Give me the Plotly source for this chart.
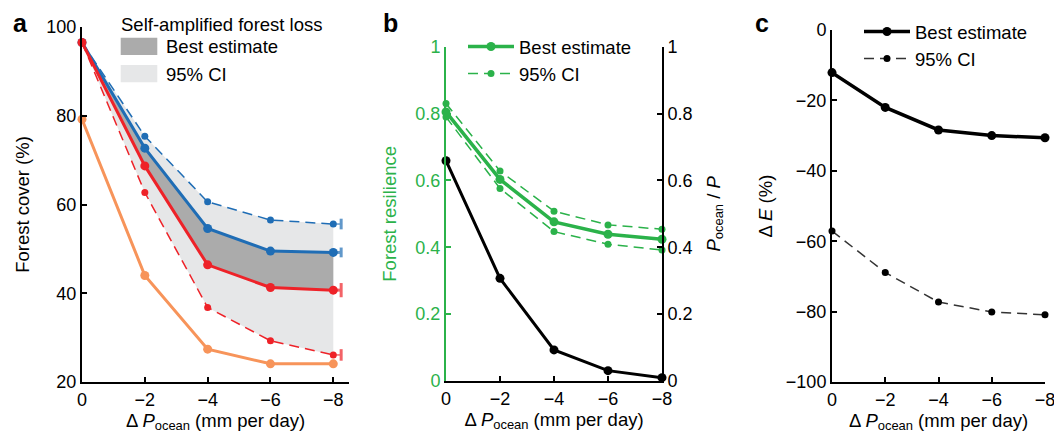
import plotly.graph_objects as go

W, H = 1054, 437
FONT = "Liberation Sans, Arial, Helvetica, sans-serif"

# ---------------- data ----------------
dP = [0, -2, -4, -6, -8]
dP_ticks = [0, -2, -4, -6, -8]

# panel a: forest cover (%)
cover_blue_best = [96.5, 72.7, 54.6, 49.5, 49.2]
cover_blue_ci = [96.5, 75.4, 60.6, 56.5, 55.6]
cover_red_best = [96.5, 68.7, 46.4, 41.3, 40.7]
cover_red_ci = [96.5, 62.7, 36.8, 29.3, 26.1]
cover_orange = [79.2, 44.0, 27.4, 24.1, 24.1]
# spread shown at the last step (end bars)
end_err_blue_best = 1.1
end_err_blue_ci = 1.2
end_err_red_best = 1.6
end_err_red_ci = 1.3
end_x = -8.25

# panel b
resilience_best = [0.805, 0.603, 0.476, 0.439, 0.424]
resilience_ci_upper = [0.830, 0.628, 0.508, 0.467, 0.454]
resilience_ci_lower = [0.790, 0.576, 0.447, 0.409, 0.392]
pocean_ratio = [0.659, 0.307, 0.093, 0.031, 0.010]

# panel c
dE_best = [-12.1, -22.0, -28.4, -30.0, -30.6]
dE_ci = [-57.1, -68.9, -77.3, -80.1, -80.9]

# ---------------- styles ----------------
BLUE = "#1f6db5"
RED = "#ee2228"
ORANGE = "#f7945a"
GREEN = "#2bb24a"
DARKFILL = "#ababab"
LIGHTFILL = "#e6e7e8"
BLACK = "#000000"
DASH = "10px,6px"
TS = 18      # tick font size
LS = 18.5    # label / legend font size


def px_x(p):
    return p / W


def px_y(p):
    return 1 - p / H


fig = go.Figure()

# ---- panel a fills ----
fig.add_trace(go.Scatter(x=dP, y=cover_blue_ci, mode="lines", line=dict(width=0),
                         showlegend=False, hoverinfo="skip", xaxis="x", yaxis="y"))
fig.add_trace(go.Scatter(x=dP, y=cover_red_ci, mode="lines", line=dict(width=0),
                         fill="tonexty", fillcolor=LIGHTFILL,
                         showlegend=False, hoverinfo="skip", xaxis="x", yaxis="y"))
fig.add_trace(go.Scatter(x=dP, y=cover_blue_best, mode="lines", line=dict(width=0),
                         showlegend=False, hoverinfo="skip", xaxis="x", yaxis="y"))
fig.add_trace(go.Scatter(x=dP, y=cover_red_best, mode="lines", line=dict(width=0),
                         fill="tonexty", fillcolor=DARKFILL,
                         showlegend=False, hoverinfo="skip", xaxis="x", yaxis="y"))


def end_bar(vals, err, color, width):
    fig.add_trace(go.Scatter(
        x=[dP[-1], end_x], y=[vals[-1], vals[-1]], mode="lines",
        line=dict(color=color, width=width),
        error_y=dict(type="data", array=[0, err], color=color, thickness=3, width=0),
        opacity=0.7, showlegend=False, hoverinfo="skip", cliponaxis=False,
        xaxis="x", yaxis="y"))


end_bar(cover_blue_ci, end_err_blue_ci, BLUE, 1.5)
end_bar(cover_red_ci, end_err_red_ci, RED, 1.5)
end_bar(cover_blue_best, end_err_blue_best, BLUE, 3)
end_bar(cover_red_best, end_err_red_best, RED, 3)

# ---- panel a lines ----
fig.add_trace(go.Scatter(x=dP, y=cover_blue_ci, mode="lines+markers",
                         line=dict(color=BLUE, width=1.5, dash=DASH),
                         marker=dict(color=BLUE, size=7), cliponaxis=False,
                         showlegend=False, xaxis="x", yaxis="y"))
fig.add_trace(go.Scatter(x=dP, y=cover_red_ci, mode="lines+markers",
                         line=dict(color=RED, width=1.5, dash=DASH),
                         marker=dict(color=RED, size=7), cliponaxis=False,
                         showlegend=False, xaxis="x", yaxis="y"))
fig.add_trace(go.Scatter(x=dP, y=cover_orange, mode="lines+markers",
                         line=dict(color=ORANGE, width=3),
                         marker=dict(color=ORANGE, size=9), cliponaxis=False,
                         showlegend=False, xaxis="x", yaxis="y"))
fig.add_trace(go.Scatter(x=dP, y=cover_blue_best, mode="lines+markers",
                         line=dict(color=BLUE, width=3),
                         marker=dict(color=BLUE, size=9), cliponaxis=False,
                         showlegend=False, xaxis="x", yaxis="y"))
fig.add_trace(go.Scatter(x=dP, y=cover_red_best, mode="lines+markers",
                         line=dict(color=RED, width=3),
                         marker=dict(color=RED, size=9), cliponaxis=False,
                         showlegend=False, xaxis="x", yaxis="y"))

# ---- panel b ----
fig.add_trace(go.Scatter(x=dP, y=pocean_ratio, mode="lines+markers",
                         line=dict(color=BLACK, width=3),
                         marker=dict(color=BLACK, size=9), cliponaxis=False,
                         showlegend=False, xaxis="x2", yaxis="y3"))
fig.add_trace(go.Scatter(x=dP, y=resilience_ci_upper, mode="lines+markers",
                         name="95% CI", legend="legend2",
                         line=dict(color=GREEN, width=1.5, dash=DASH),
                         marker=dict(color=GREEN, size=7), cliponaxis=False,
                         showlegend=False, xaxis="x2", yaxis="y2"))
fig.add_trace(go.Scatter(x=dP, y=resilience_ci_lower, mode="lines+markers",
                         name="95% CI", legend="legend2",
                         line=dict(color=GREEN, width=1.5, dash=DASH),
                         marker=dict(color=GREEN, size=7), cliponaxis=False,
                         showlegend=False, xaxis="x2", yaxis="y2"))
fig.add_trace(go.Scatter(x=dP, y=resilience_best, mode="lines+markers",
                         name="Best estimate", legend="legend2",
                         line=dict(color=GREEN, width=3.5),
                         marker=dict(color=GREEN, size=9), cliponaxis=False,
                         showlegend=True, xaxis="x2", yaxis="y2"))
# legend-only CI entry (keeps the legend order)
fig.add_trace(go.Scatter(x=[None], y=[None], mode="lines+markers",
                         name="95% CI", legend="legend2",
                         line=dict(color=GREEN, width=1.5, dash=DASH),
                         marker=dict(color=GREEN, size=7),
                         showlegend=True, xaxis="x2", yaxis="y2"))

# ---- panel c ----
fig.add_trace(go.Scatter(x=dP, y=dE_best, mode="lines+markers",
                         name="Best estimate", legend="legend3",
                         line=dict(color=BLACK, width=3.5),
                         marker=dict(color=BLACK, size=9), cliponaxis=False,
                         xaxis="x3", yaxis="y4"))
fig.add_trace(go.Scatter(x=dP, y=dE_ci, mode="lines+markers",
                         name="95% CI", legend="legend3",
                         line=dict(color="#333333", width=1.5, dash=DASH),
                         marker=dict(color=BLACK, size=7), cliponaxis=False,
                         xaxis="x3", yaxis="y4"))

# ---------------- axes ----------------
tickfont = dict(family=FONT, size=TS, color=BLACK)
titlefont = dict(family=FONT, size=LS, color=BLACK)
xtitle = "Δ <i>P</i><sub>ocean</sub> (mm per day)"


def xaxis(dom, rng, anchor):
    return dict(domain=dom, range=rng, anchor=anchor, tickvals=dP_ticks,
                showline=True, linecolor=BLACK, linewidth=2, ticks="inside",
                ticklen=5, tickwidth=1.5, tickcolor=BLACK, showgrid=False,
                zeroline=False, tickfont=tickfont, automargin=False,
                ticklabeloverflow="allow",
                title=dict(text=xtitle, font=titlefont, standoff=4))


def yaxis(dom, rng, anchor, dtick, title, color=BLACK, side="left", standoff=10, **kw):
    d = dict(domain=dom, range=rng, anchor=anchor, dtick=dtick, side=side,
             showline=True, linecolor=color, linewidth=2, ticks="inside",
             ticklen=5, tickwidth=1.5, tickcolor=color, showgrid=False,
             zeroline=False, tickfont=dict(family=FONT, size=TS, color=color),
             automargin=False, ticklabeloverflow="allow",
             title=dict(text=title, font=dict(family=FONT, size=LS, color=color),
                        standoff=standoff))
    d.update(kw)
    return d


fig.update_layout(
    width=W, height=H,
    margin=dict(l=0, r=0, t=0, b=0),
    paper_bgcolor="white", plot_bgcolor="rgba(0,0,0,0)",
    font=dict(family=FONT, size=LS, color=BLACK),
    xaxis=xaxis([px_x(82), px_x(349)], [0, -8.5], "y"),
    yaxis=yaxis([px_y(382), px_y(27)], [20, 100], "x", 20, "Forest cover (%)", standoff=12),
    xaxis2=xaxis([px_x(446), px_x(662)], [0, -8], "y2"),
    yaxis2=yaxis([px_y(381), px_y(46.7)], [0, 1], "x2", 0.2, "Forest resilience",
                 color=GREEN, standoff=14),
    yaxis3=yaxis([px_y(381), px_y(46.7)], [0, 1], "x2", 0.2,
                 "<i>P</i><sub>ocean</sub> / <i>P</i>", side="right",
                 overlaying="y2", standoff=15),
    xaxis3=xaxis([px_x(832), px_x(1045)], [0, -8], "y4"),
    yaxis4=yaxis([px_y(382), px_y(30)], [-100, 0], "x3", 20, "Δ <i>E</i> (%)", standoff=8),
    legend2=dict(x=px_x(463), y=px_y(28), xanchor="left", yanchor="top",
                 bgcolor="rgba(0,0,0,0)", itemwidth=46,
                 font=dict(family=FONT, size=LS, color=BLACK), tracegroupgap=0),
    legend3=dict(x=px_x(859), y=px_y(13), xanchor="left", yanchor="top",
                 bgcolor="rgba(0,0,0,0)", itemwidth=46,
                 font=dict(family=FONT, size=LS, color=BLACK), tracegroupgap=0),
    showlegend=True,
)

# ---------------- panel a legend (area swatches) ----------------
fig.add_shape(type="rect", xref="paper", yref="paper",
              x0=px_x(120.7), x1=px_x(157.3), y0=px_y(55), y1=px_y(37.7),
              fillcolor=DARKFILL, line=dict(width=0))
fig.add_shape(type="rect", xref="paper", yref="paper",
              x0=px_x(120.7), x1=px_x(157.3), y0=px_y(82.3), y1=px_y(65),
              fillcolor=LIGHTFILL, line=dict(width=0))
fig.add_annotation(text="Self-amplified forest loss", xref="paper", yref="paper",
                   x=px_x(119), y=px_y(24), xanchor="left", yanchor="middle",
                   showarrow=False, font=dict(family=FONT, size=LS, color=BLACK))
fig.add_annotation(text="Best estimate", xref="paper", yref="paper",
                   x=px_x(164), y=px_y(47), xanchor="left", yanchor="middle",
                   showarrow=False, font=dict(family=FONT, size=LS, color=BLACK))
fig.add_annotation(text="95% CI", xref="paper", yref="paper",
                   x=px_x(164), y=px_y(74), xanchor="left", yanchor="middle",
                   showarrow=False, font=dict(family=FONT, size=LS, color=BLACK))

# ---------------- panel letters ----------------
for letter, xp in [("a", 20), ("b", 390), ("c", 762)]:
    fig.add_annotation(text="<b>%s</b>" % letter, xref="paper", yref="paper",
                       x=px_x(xp), y=px_y(23), xanchor="center", yanchor="middle",
                       showarrow=False, font=dict(family=FONT, size=25, color=BLACK))

fig.write_html("out.html", config={"displayModeBar": False},
               post_script="document.body.style.margin='0px';")
